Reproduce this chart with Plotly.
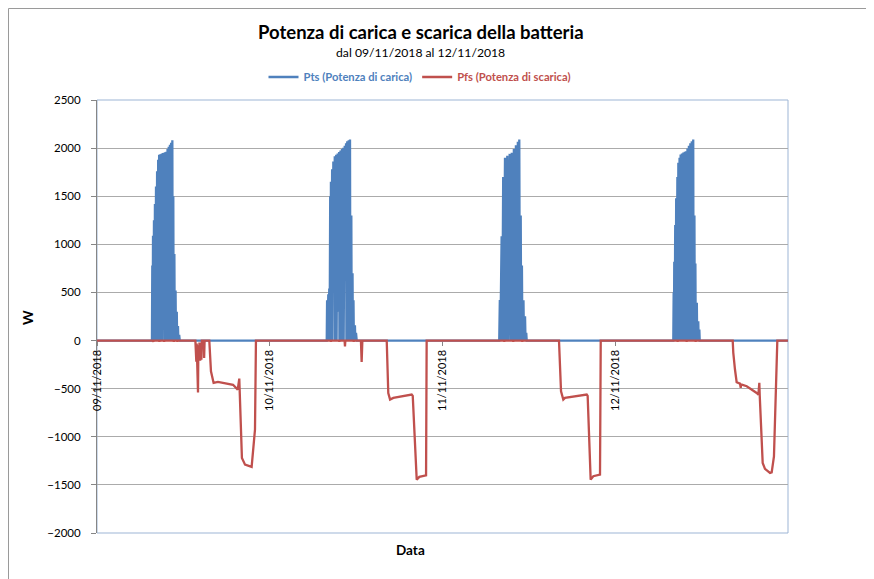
import plotly.graph_objects as go

# ---------------- data ----------------
days = ["2018-11-09", "2018-11-10", "2018-11-11", "2018-11-12"]
tick_labels = ["09/11/2018", "10/11/2018", "11/11/2018", "12/11/2018"]
range_end = "2018-11-13 00:00"

# Pts (Potenza di carica) - charge power, W
pts_day1_t = ["07:38","07:41","07:44","07:47","07:50","07:55","07:58","08:03","08:06","08:12","08:15","08:21","08:24","08:30","08:33","08:38","08:41","08:48","08:51","08:58","09:01","09:08","09:11","09:18","09:21","09:28","09:31","09:38","09:41","09:48","09:51","09:58","10:01","10:08","10:11","10:18","10:21","10:28","10:31","10:36","10:39","10:45","10:48","10:55","10:58","11:05","11:08","11:15","11:18","11:25","11:30"]
pts_day1_v = [0,780,0,1090,0,1250,0,1420,0,1600,0,1760,0,1880,620,1930,0,1935,0,1940,0,1948,280,1952,0,1958,0,1962,0,1990,0,2015,0,2035,0,2055,0,2082,0,1500,0,900,0,520,0,300,0,150,0,60,0]

pts_day2_t = ["07:55","07:58","08:01","08:08","08:11","08:16","08:19","08:24","08:27","08:30","08:33","08:40","08:43","08:50","08:53","09:02","09:05","09:14","09:17","09:26","09:29","09:38","09:41","09:50","09:53","10:02","10:05","10:13","10:16","10:25","10:28","10:36","10:39","10:46","10:49","10:58","11:01","11:09","11:12","11:20","11:23","11:30","11:33","11:38","11:41","11:50","11:53","11:59","12:05"]
pts_day2_v = [0,420,0,480,0,540,0,1500,0,1650,0,1780,0,1860,700,1915,0,1930,0,1945,300,1960,0,1975,0,1990,0,2003,0,2025,900,2050,0,2072,0,2082,0,2090,0,1300,0,700,0,420,0,160,0,80,0]

pts_day3_t = ["07:53","07:58","08:02","08:13","08:18","08:26","08:30","08:41","08:46","09:00","09:05","09:20","09:25","09:37","09:42","09:55","10:00","10:12","10:17","10:28","10:33","10:40","10:45","10:52","10:56","11:02","11:06","11:15","11:19","11:28","11:32","11:38","11:42"]
pts_day3_v = [0,420,0,1084,0,1700,0,1899,0,1920,0,1940,0,1951,0,1990,0,2030,0,2065,0,2090,0,1300,0,780,0,420,0,253,0,80,0]

pts_day4_t = ["08:04","08:07","08:09","08:12","08:15","08:20","08:23","08:28","08:31","08:38","08:41","08:46","08:49","08:56","08:59","09:05","09:08","09:16","09:19","09:28","09:31","09:40","09:43","09:50","09:53","10:02","10:05","10:14","10:17","10:26","10:29","10:38","10:41","10:50","10:53","11:00","11:03","11:08","11:11","11:20","11:23","11:32","11:35","11:41","11:44","11:52"]
pts_day4_v = [0,500,0,820,0,1200,0,1480,0,1700,0,1847,0,1900,500,1933,0,1945,0,1955,0,1962,0,1968,0,1995,0,2025,0,2050,0,2070,0,2090,0,1300,0,800,0,392,0,200,0,114,0,0]

# Pfs (Potenza di scarica) - discharge power, W
pfs_day1_t = ["00:00","07:45","07:50","07:53","08:37","08:40","08:43","09:17","09:20","09:23","10:37","10:40","10:43","11:07","11:10","11:13","13:40","13:42","13:45","13:48","13:51","14:02","14:05","14:10","14:14","14:20","14:24","14:30","14:34","14:50","14:53","14:57","15:36","15:50","16:12","16:48","18:54","19:33","19:46","20:08","20:34","21:29","21:57","22:05"]
pfs_day1_v = [0,0,-12,0,0,-12,0,0,-10,0,0,-12,0,0,-10,0,0,-210,-40,-220,-30,-540,-50,-200,-20,-210,-50,-200,0,0,-180,0,0,-320,-440,-430,-460,-510,-395,-1220,-1290,-1313,-925,0]

pfs_day2_t = ["08:27","08:30","08:33","09:37","09:40","09:43","10:24","10:27","10:30","11:37","11:40","11:43","12:40","12:46","12:52","16:15","16:28","16:43","17:10","19:43","19:52","20:25","20:47","21:43","21:48"]
pfs_day2_v = [0,-12,0,0,-12,0,0,-60,0,0,-12,0,0,-222,0,0,-545,-613,-596,-561,-575,-1445,-1417,-1400,0]

pfs_day3_t = ["08:32","08:35","08:38","09:47","09:50","09:53","11:02","11:05","11:08","16:11","16:28","16:47","17:01","20:02","20:10","20:35","20:57","21:53","21:59"]
pfs_day3_v = [0,-10,0,0,-10,0,0,-10,0,0,-527,-613,-596,-561,-575,-1445,-1410,-1393,0]

pfs_day4_t = ["08:37","08:40","08:43","09:52","09:55","09:58","11:07","11:10","11:13","16:19","16:24","16:38","16:52","17:20","17:26","17:28","18:16","19:39","19:53","20:01","20:04","20:29","20:48","21:30","21:44","22:03","22:20","22:31","23:59"]
pfs_day4_v = [0,-10,0,0,-10,0,0,-10,0,0,-128,-301,-433,-447,-492,-455,-475,-545,-561,-440,-561,-1272,-1334,-1376,-1370,-1203,-405,0,0]

# ---------------- build series ----------------
def join(day, times):
    return [f"{day} {t}" for t in times]

pts_x = (["2018-11-09 00:00"] + join(days[0], pts_day1_t) + join(days[1], pts_day2_t)
         + join(days[2], pts_day3_t) + join(days[3], pts_day4_t) + [range_end])
pts_y = [0] + pts_day1_v + pts_day2_v + pts_day3_v + pts_day4_v + [0]

pfs_x = (join(days[0], pfs_day1_t) + join(days[1], pfs_day2_t)
         + join(days[2], pfs_day3_t) + join(days[3], pfs_day4_t) + [range_end])
pfs_y = pfs_day1_v + pfs_day2_v + pfs_day3_v + pfs_day4_v + [0]

BLUE = "#4F81BD"
RED = "#C0504D"
FONT = "Lato"

fig = go.Figure()
fig.add_trace(go.Scatter(
    x=pts_x, y=pts_y, mode="lines",
    line=dict(color=BLUE, width=2.3),
    name=f"<span style='color:{BLUE}'><b>Pts (Potenza di carica)</b></span>"))
fig.add_trace(go.Scatter(
    x=pfs_x, y=pfs_y, mode="lines",
    line=dict(color=RED, width=2.3),
    name=f"<span style='color:{RED}'><b>Pfs (Potenza di scarica)</b></span>"))

# page offset (body margin) and plot area geometry in page px
OFF = 8
W, H = 874 - OFF, 579 - OFF
PL, PR, PT, PB = 97, 788, 100, 533          # plot area edges (page px)
L, T = PL - OFF, PT - OFF
R = W - (PR - OFF)
B = H - (PB - OFF)
pw, ph = PR - PL, PB - PT

def px_x(p):
    return (p - PL) / pw

def px_y(p):
    return (PB - p) / ph

fig.update_layout(
    width=W, height=H,
    margin=dict(l=L, r=R, t=T, b=B, autoexpand=False),
    paper_bgcolor="white", plot_bgcolor="white",
    font=dict(family=FONT, size=11, color="#000000"),
    showlegend=True,
    legend=dict(orientation="h", x=px_x(420), xanchor="center",
                y=px_y(77), yanchor="middle",
                font=dict(family=FONT, size=11.2),
                itemwidth=30, tracegroupgap=0),
    xaxis=dict(
        type="date", range=["2018-11-09 00:00", range_end],
        anchor="free", position=2000 / 4500,
        tickmode="array", tickvals=days, ticktext=tick_labels,
        tickangle=-90, ticks="outside", ticklen=4, tickcolor="#868686",
        showgrid=False, showline=False, zeroline=False,
        tickfont=dict(family=FONT, size=11, color="#000000"),
    ),
    yaxis=dict(
        range=[-2000, 2500], dtick=500, tick0=0,
        showgrid=True, gridcolor="#ABABAB", gridwidth=1,
        zeroline=False,
        showline=True, linecolor="#868686", linewidth=1,
        ticks="outside", ticklen=5, tickcolor="#868686",
        ticklabelstandoff=8,
        tickfont=dict(family=FONT, size=11.5, color="#000000"),
    ),
)

fig.add_shape(type="rect", xref="paper", yref="paper", x0=0, x1=1, y0=0, y1=1,
              line=dict(color="#9DB5D5", width=1), layer="below")
# outer chart frame (left and top edges visible)
fig.add_shape(type="path", xref="paper", yref="paper",
              path=f"M {px_x(8.5)} {px_y(600)} L {px_x(8.5)} {px_y(8.5)} L {px_x(900)} {px_y(8.5)}",
              line=dict(color="#9A9A9A", width=1))

fig.add_annotation(text="<b>Potenza di carica e scarica della batteria</b>",
                   xref="paper", yref="paper", x=px_x(421), y=px_y(32),
                   xanchor="center", yanchor="middle", showarrow=False,
                   font=dict(family=FONT, size=18.5, color="#000000"))
fig.add_annotation(text="dal 09/11/2018 al 12/11/2018",
                   xref="paper", yref="paper", x=px_x(420), y=px_y(52),
                   xanchor="center", yanchor="middle", showarrow=False,
                   font=dict(family=FONT, size=12.2, color="#000000"))
fig.add_annotation(text="<b>W</b>", xref="paper", yref="paper",
                   x=px_x(27), y=px_y(318), textangle=-90,
                   xanchor="center", yanchor="middle", showarrow=False,
                   font=dict(family=FONT, size=14, color="#000000"))
fig.add_annotation(text="<b>Data</b>", xref="paper", yref="paper",
                   x=px_x(410), y=px_y(550),
                   xanchor="center", yanchor="middle", showarrow=False,
                   font=dict(family=FONT, size=13.5, color="#000000"))

fig.write_html("out.html")
